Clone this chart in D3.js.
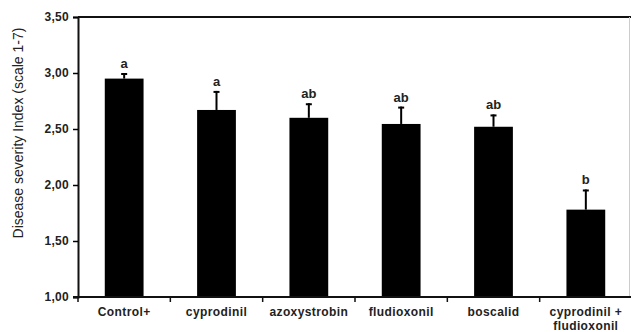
<!DOCTYPE html>
<html>
<head>
<meta charset="utf-8">
<script src="https://cdn.jsdelivr.net/npm/d3@7"></script>
<style>
  body { margin: 0; background: #fff; }
  text { font-family: "Liberation Sans", Arial, sans-serif; }
</style>
</head>
<body>
<svg width="631" height="332"></svg>
<script>
const categories = ["Control+", "cyprodinil", "azoxystrobin", "fludioxonil", "boscalid", "cyprodinil + fludioxonil"];
const values = [2.95, 2.67, 2.60, 2.545, 2.52, 1.78];
const errors = [0.05, 0.17, 0.13, 0.155, 0.11, 0.18];
const groups = ["a", "a", "ab", "ab", "ab", "b"];
const yTicks = [1.0, 1.5, 2.0, 2.5, 3.0, 3.5];

const svg = d3.select("svg");
const margin = {left: 78, right: -1, top: 17, bottom: 35};
const width = +svg.attr("width");
const height = +svg.attr("height");

const x = d3.scaleBand()
    .domain(categories)
    .range([margin.left, width - margin.right])
    .paddingInner(0.58)
    .paddingOuter(0.29);

const y = d3.scaleLinear()
    .domain([1, 3.5])
    .range([height - margin.bottom, margin.top]);

const fmt = d => d3.format(".2f")(d).replace(".", ",");

// frame: top + right
svg.append("line")
    .attr("x1", margin.left).attr("x2", width)
    .attr("y1", y(3.5)).attr("y2", y(3.5))
    .attr("stroke", "#111").attr("stroke-width", 2);
svg.append("line")
    .attr("x1", 629.5).attr("x2", 629.5)
    .attr("y1", y(3.5)).attr("y2", y(1))
    .attr("stroke", "#ccc").attr("stroke-width", 1);

// bars
svg.append("g")
    .selectAll("rect")
    .data(categories)
    .enter().append("rect")
    .attr("x", d => x(d))
    .attr("width", x.bandwidth())
    .attr("y", (d, i) => y(values[i]))
    .attr("height", (d, i) => y(1) - y(values[i]))
    .attr("fill", "#000");

// error bars
const err = svg.append("g").attr("stroke", "#000").attr("stroke-width", 2);
categories.forEach((c, i) => {
    const cx = x(c) + x.bandwidth() / 2;
    err.append("line")
        .attr("x1", cx).attr("x2", cx)
        .attr("y1", y(values[i])).attr("y2", y(values[i] + errors[i]));
    err.append("line")
        .attr("x1", cx - 3).attr("x2", cx + 3)
        .attr("y1", y(values[i] + errors[i]) + 1).attr("y2", y(values[i] + errors[i]) + 1);
});

// letters
svg.append("g")
    .selectAll("text")
    .data(categories)
    .enter().append("text")
    .attr("x", d => x(d) + x.bandwidth() / 2)
    .attr("y", (d, i) => y(values[i] + errors[i]) - 5)
    .attr("text-anchor", "middle")
    .attr("font-size", 13)
    .attr("font-weight", "bold")
    .attr("fill", "#222")
    .text((d, i) => groups[i]);

// y axis
const yAxis = svg.append("g")
    .attr("transform", `translate(${margin.left},0)`)
    .call(d3.axisLeft(y).tickValues(yTicks).tickFormat(fmt).tickSize(5).tickPadding(4));
yAxis.select(".domain").attr("stroke-width", 2).attr("stroke", "#111");
yAxis.selectAll(".tick line").attr("stroke-width", 1.5);
yAxis.selectAll(".tick text")
    .attr("font-family", "Liberation Sans, Arial, sans-serif")
    .attr("font-size", 12).attr("font-weight", "bold").attr("fill", "#222")
    .attr("letter-spacing", 0.3);

// x axis with ticks at category boundaries
const xAxis = svg.append("g")
    .attr("transform", `translate(0,${y(1)})`);
xAxis.append("line")
    .attr("x1", margin.left - 5).attr("x2", width)
    .attr("stroke", "#111").attr("stroke-width", 2);
const bounds = categories.map(c => x(c) - x.step() * x.paddingOuter());
xAxis.selectAll(".bt")
    .data(bounds)
    .enter().append("line")
    .attr("x1", d => d).attr("x2", d => d)
    .attr("y1", 0).attr("y2", 5)
    .attr("stroke", "#111").attr("stroke-width", 1.5);

const labels = xAxis.selectAll(".lab")
    .data(categories)
    .enter().append("text")
    .attr("x", d => x(d) + x.bandwidth() / 2)
    .attr("y", 19)
    .attr("text-anchor", "middle")
    .attr("font-size", 12)
    .attr("font-weight", "bold")
    .attr("letter-spacing", 0.4)
    .attr("fill", "#222");
labels.each(function(d) {
    const parts = d === "cyprodinil + fludioxonil" ? ["cyprodinil +", "fludioxonil"] : [d];
    const t = d3.select(this);
    parts.forEach((p, j) => {
        t.append("tspan")
            .attr("x", x(d) + x.bandwidth() / 2)
            .attr("dy", j === 0 ? 0 : 14)
            .text(p);
    });
});

// y title
svg.append("text")
    .attr("transform", `translate(23,133) rotate(-90)`)
    .attr("text-anchor", "middle")
    .attr("font-size", 14)
    .attr("fill", "#222")
    .text("Disease severity Index (scale 1-7)");
</script>
</body>
</html>
